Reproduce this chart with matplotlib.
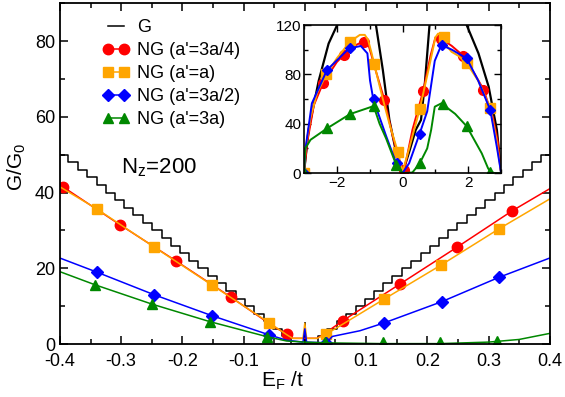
import matplotlib
matplotlib.use("Agg")
import matplotlib.pyplot as plt
from matplotlib.lines import Line2D
from matplotlib.ticker import MultipleLocator

plt.rcParams['font.family'] = ['Liberation Sans', 'DejaVu Sans']
plt.rcParams['mathtext.default'] = 'regular'

# ---- main panel data ----
# energies where the pristine conductance G steps up by 2 (read off the staircase)
step_edges = [0.022, 0.037, 0.052, 0.067, 0.083, 0.098, 0.113, 0.128, 0.143,
              0.158, 0.174, 0.189, 0.204, 0.219, 0.234, 0.249, 0.265, 0.280,
              0.295, 0.310, 0.325, 0.340, 0.356, 0.371, 0.386]
step_height = 2
G_spike = 5.5

red_line_x = [-0.4, -0.395, -0.302, -0.211, -0.12, -0.05, -0.029, -0.02, 0.0, 0.02, 0.03, 0.0625, 0.155, 0.248, 0.339, 0.4]
red_line_y = [41.8, 41.5, 31.5, 22.0, 12.3, 4.5, 2.6, 1.5, 1.5, 1.5, 2.5, 6.2, 15.8, 25.5, 35.2, 41.0]
red_mark_x = [-0.395, -0.302, -0.211, -0.12, -0.029, 0.0625, 0.155, 0.248, 0.339]
red_mark_y = [41.5, 31.5, 22.0, 12.3, 2.6, 6.2, 15.8, 25.5, 35.2]

orange_line_x = [-0.4, -0.34, -0.246, -0.152, -0.058, -0.03, -0.02, -0.003, 0.0, 0.003, 0.02, 0.035, 0.129, 0.223, 0.317, 0.4]
orange_line_y = [41.5, 35.7, 25.6, 15.6, 5.6, 2.5, 1.5, 1.5, 5.5, 1.5, 1.5, 2.6, 11.8, 20.9, 30.4, 38.3]
orange_mark_x = [-0.34, -0.246, -0.152, -0.058, 0.035, 0.129, 0.223, 0.317]
orange_mark_y = [35.7, 25.6, 15.6, 5.6, 2.6, 11.8, 20.9, 30.4]

blue_line_x = [-0.4, -0.34, -0.246, -0.152, -0.058, -0.03, -0.003, 0.0, 0.003, 0.035, 0.045, 0.09, 0.13, 0.224, 0.317, 0.4]
blue_line_y = [22.7, 19.0, 13.0, 7.5, 2.4, 1.0, 0.5, 4.0, 0.5, 0.3, 2.0, 3.5, 5.6, 11.2, 17.6, 22.7]
blue_mark_x = [-0.34, -0.246, -0.152, -0.058, 0.035, 0.13, 0.224, 0.317]
blue_mark_y = [19.0, 13.0, 7.5, 2.4, 0.3, 5.6, 11.2, 17.6]

green_line_x = [-0.4, -0.342, -0.249, -0.155, -0.061, -0.03, 0.0, 0.033, 0.127, 0.22, 0.3, 0.35, 0.4]
green_line_y = [19.1, 15.6, 10.5, 5.9, 1.9, 0.8, 0.5, 0.3, 0.1, 0.1, 0.5, 1.2, 2.8]
green_mark_x = [-0.342, -0.249, -0.155, -0.061, 0.033, 0.127, 0.22, 0.314]
green_mark_y = [15.6, 10.5, 5.9, 1.9, 0.5, 0.4, 0.4, 0.9]

# ---- inset data (full band) ----
ins_black_left_x = [-3.0, -2.86, -2.55, -2.25, -1.99, -1.8]
ins_black_left_y = [0, 35, 75, 105, 120, 135]
ins_black_mid_x = [-0.95, -0.81, -0.6, -0.4, -0.19, 0.0, 0.2, 0.4, 0.56, 0.67, 0.82, 0.95]
ins_black_mid_y = [140, 120, 83.5, 43, 16, 0, 17, 35, 43, 70, 120, 140]
ins_black_right_x = [1.8, 1.95, 2.31, 2.62, 2.87, 3.0]
ins_black_right_y = [135, 120, 97, 70, 35, 0]

ins_red_x = [-3.0, -2.9, -2.7, -2.42, -2.0, -1.78, -1.4, -1.17, -1.05, -0.95, -0.86, -0.55, -0.3, -0.1, 0.05,
             0.3, 0.63, 0.85, 1.0, 1.18, 1.5, 1.85, 2.2, 2.46, 2.75, 2.9, 3.0]
ins_red_y = [0, 25, 55, 73, 90, 96, 104, 107, 105, 96, 87, 59, 30, 10, 2.4,
             35, 66.7, 95, 110, 109, 103, 95, 80, 68, 45, 25, 0]
ins_red_mx = [-2.42, -1.78, -1.17, -0.55, 0.05, 0.63, 1.18, 1.85, 2.46]
ins_red_my = [73, 95.7, 106.5, 59, 2.4, 66.7, 109, 94.8, 67.7]

ins_orange_x = [-3.0, -2.95, -2.8, -2.6, -2.32, -2.0, -1.6, -1.3, -1.15, -1.05, -0.95, -0.86, -0.6, -0.4, -0.14, 0.0,
                0.2, 0.52, 0.8, 1.0, 1.08, 1.2, 1.35, 1.49, 1.7, 1.95, 2.3, 2.67, 2.85, 3.0]
ins_orange_y = [0, 20, 45, 65, 80, 93, 106.5, 112, 112, 108, 98, 88, 60, 40, 16.8, 1,
                20, 51.6, 85, 110, 113, 112, 103, 98.3, 95, 89, 75, 52.5, 28, 0]
ins_orange_mx = [-3.0, -2.32, -1.6, -0.86, -0.14, 0.52, 1.26, 1.95, 2.67]
ins_orange_my = [0, 80, 106.5, 88, 16.8, 51.6, 110.5, 89, 52.5]

ins_blue_x = [-3.0, -2.96, -2.76, -2.3, -1.63, -1.27, -1.07, -0.99, -0.89, -0.5, -0.19, 0.0,
              0.2, 0.52, 0.75, 0.98, 1.18, 1.5, 1.95, 2.3, 2.67, 2.87, 3.0]
ins_blue_y = [0, 18.6, 56.5, 83.5, 101, 103, 97, 75, 59.7, 30, 7.8, 0,
              8, 32, 50, 91, 103.8, 100, 93, 75, 51, 21, 0]
ins_blue_mx = [-3.0, -2.3, -1.6, -0.88, -0.18, 0.52, 1.2, 1.96, 2.67]
ins_blue_my = [0, 83.5, 101, 59.7, 7.8, 32, 103.5, 93, 51]

ins_green_x = [-3.0, -2.96, -2.8, -2.3, -1.6, -0.88, -0.7, -0.5, -0.19, 0.0,
               0.3, 0.52, 0.75, 0.87, 0.98, 1.18, 1.6, 1.95, 2.41, 2.6, 2.67, 2.8, 3.0]
ins_green_y = [0, 20, 27, 36.2, 47.8, 54.3, 40, 28, 6.5, 0,
               0.5, 7.8, 20, 35, 53.8, 56.5, 48, 38, 16, 4, 1.1, 0, 0]
ins_green_mx = [-3.0, -2.3, -1.6, -0.88, -0.19, 0.52, 1.22, 1.95, 2.67]
ins_green_my = [0, 36.2, 47.8, 54.3, 6.5, 7.8, 56, 38, 1.1]

legend_labels = ["G", "NG (a'=3a/4)", "NG (a'=a)", "NG (a'=3a/2)", "NG (a'=3a)"]

# staircase for G built from the step edges (symmetric in E)
gx = []
gy = []
level = len(step_edges) * step_height
for e in reversed(step_edges):
    gx += [-e, -e]
    gy += [level, level - step_height]
    level -= step_height
gx = [-0.4] + gx + [0.0, 0.0, 0.0]
gy = [len(step_edges) * step_height] + gy + [0, G_spike, 0]
level = 0
for e in step_edges:
    gx += [e, e]
    gy += [level, level + step_height]
    level += step_height
gx += [0.4]
gy += [level]

red = "#ff0000"
orange = "#ffa500"
blue = "#0000ff"
green = "#008800"

fig = plt.figure(figsize=(5.65, 3.97), dpi=100)
ax = fig.add_axes([0.106, 0.1335, 0.867, 0.8585])

lw = 1.1
ax.plot(gx, gy, color="black", lw=lw)
ax.plot(red_line_x, red_line_y, color=red, lw=lw)
ax.plot(red_mark_x, red_mark_y, "o", color=red, ms=7.5)
ax.plot(orange_line_x, orange_line_y, color=orange, lw=lw)
ax.plot(orange_mark_x, orange_mark_y, "s", color=orange, ms=7)
ax.plot(blue_line_x, blue_line_y, color=blue, lw=lw)
ax.plot(blue_mark_x, blue_mark_y, "D", color=blue, ms=6)
ax.plot(green_line_x, green_line_y, color=green, lw=lw)
ax.plot(green_mark_x, green_mark_y, "^", color=green, ms=7.5)

ax.set_xlim(-0.4, 0.4)
ax.set_ylim(0, 90)
ax.xaxis.set_major_locator(MultipleLocator(0.1))
ax.xaxis.set_minor_locator(MultipleLocator(0.05))
ax.yaxis.set_major_locator(MultipleLocator(20))
ax.yaxis.set_minor_locator(MultipleLocator(10))
ax.tick_params(which="both", direction="in", top=True, right=True, labelsize=13, width=1.1)
ax.tick_params(which="major", length=6)
ax.tick_params(which="minor", length=3.5)
ax.tick_params(axis="x", pad=6.5)
ax.set_xticks([-0.4, -0.3, -0.2, -0.1, 0, 0.1, 0.2, 0.3, 0.4])
ax.set_xticklabels(["-0.4", "-0.3", "-0.2", "-0.1", "0", "0.1", "0.2", "0.3", "0.4"])
for s in ax.spines.values():
    s.set_linewidth(1.3)
ax.set_xlabel("E$_F$ /t", fontsize=15)
ax.xaxis.set_label_coords(0.455, -0.075)
ax.set_ylabel("G/G$_0$", fontsize=15)
ax.yaxis.set_label_coords(-0.065, 0.52)

ax.text(-0.3, 46.5, "N$_z$=200", fontsize=16, va="center", ha="left")

handles = [
    Line2D([], [], color="black", lw=lw),
    Line2D([], [], color=red, lw=lw, marker="o", ms=7.5),
    Line2D([], [], color=orange, lw=lw, marker="s", ms=7),
    Line2D([], [], color=blue, lw=lw, marker="D", ms=6),
    Line2D([], [], color=green, lw=lw, marker="^", ms=7.5),
]
ax.legend(handles, legend_labels, loc="upper left", bbox_to_anchor=(0.065, 0.985), frameon=False,
          fontsize=13, handlelength=1.5, handletextpad=0.4, labelspacing=0.33, borderaxespad=0.2,
          numpoints=2)

# inset
ins = fig.add_axes([0.538, 0.564, 0.349, 0.373])
ins.plot(ins_black_left_x, ins_black_left_y, color="black", lw=1.6)
ins.plot(ins_black_mid_x, ins_black_mid_y, color="black", lw=1.6)
ins.plot(ins_black_right_x, ins_black_right_y, color="black", lw=1.6)
ins.plot(ins_red_x, ins_red_y, color=red, lw=1.4)
ins.plot(ins_red_mx, ins_red_my, "o", color=red, ms=7)
ins.plot(ins_orange_x, ins_orange_y, color=orange, lw=1.4)
ins.plot(ins_orange_mx, ins_orange_my, "s", color=orange, ms=6.5)
ins.plot(ins_blue_x, ins_blue_y, color=blue, lw=1.4)
ins.plot(ins_blue_mx, ins_blue_my, "D", color=blue, ms=5.5)
ins.plot(ins_green_x, ins_green_y, color=green, lw=1.4)
ins.plot(ins_green_mx, ins_green_my, "^", color=green, ms=7)
ins.set_xlim(-3, 3)
ins.set_ylim(0, 120)
ins.xaxis.set_major_locator(MultipleLocator(2))
ins.xaxis.set_minor_locator(MultipleLocator(1))
ins.yaxis.set_major_locator(MultipleLocator(40))
ins.yaxis.set_minor_locator(MultipleLocator(20))
ins.tick_params(which="both", direction="in", top=True, right=True, labelsize=11, width=1.0, pad=2)
ins.tick_params(which="major", length=5)
ins.tick_params(which="minor", length=3)
for s in ins.spines.values():
    s.set_linewidth(1.2)

fig.savefig("out.png", dpi=100)
